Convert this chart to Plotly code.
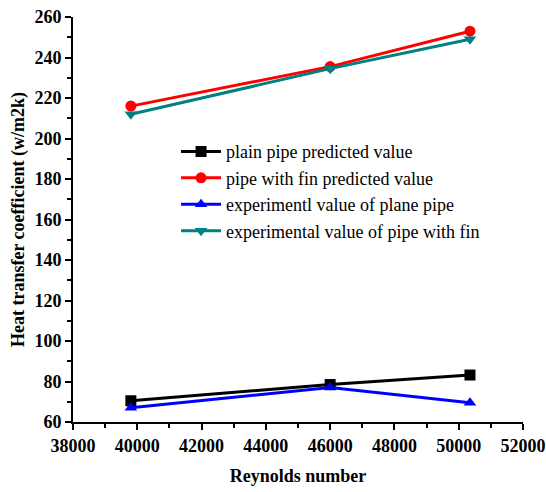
import plotly.graph_objects as go

reynolds = [39800, 46000, 50350]
plain_pred = [70.5, 78.5, 83.2]
fin_pred = [216, 235.5, 253]
plain_exp = [67, 77, 69.5]
fin_exp = [212, 234.5, 249]

x_ticks = [38000, 40000, 42000, 44000, 46000, 48000, 50000, 52000]
y_ticks = [60, 80, 100, 120, 140, 160, 180, 200, 220, 240, 260]

names = ["plain pipe predicted value", "pipe with fin predicted value",
         "experimentl value of plane pipe", "experimental value of pipe with fin"]
series = [plain_pred, fin_pred, plain_exp, fin_exp]
colors = ["black", "red", "blue", "#008080"]
symbols = ["square", "circle", "triangle-up", "triangle-down"]

fig = go.Figure()
for n, s, c, m in zip(names, series, colors, symbols):
    fig.add_trace(go.Scatter(x=reynolds, y=s, name=n, mode="lines+markers",
                             line=dict(color=c, width=3),
                             marker=dict(symbol=m, size=11, color=c)))

font = "Liberation Serif"
fig.update_layout(
    width=546, height=492,
    margin=dict(l=73, r=23, t=17, b=70, autoexpand=False),
    plot_bgcolor="white", paper_bgcolor="white",
    font=dict(family=font, color="black"),
    showlegend=True,
    legend=dict(x=0.229, y=0.713, xanchor="left", yanchor="top",
                font=dict(family=font, size=18, color="black"),
                bgcolor="rgba(0,0,0,0)", tracegroupgap=0, itemwidth=40),
)
fig.update_xaxes(range=[38000, 52000], tickvals=x_ticks,
                 ticktext=["<b>%d</b>" % v for v in x_ticks], automargin=False,
                 showgrid=False, zeroline=False, showline=True, linecolor="black", linewidth=2,
                 ticks="outside", ticklen=6, tickwidth=2, tickcolor="black",
                 tickfont=dict(family=font, size=18, color="black", weight="bold"),
                 minor=dict(dtick=1000, ticks="outside", ticklen=4, tickwidth=2, tickcolor="black"),
                 title=dict(text="<b>Reynolds number</b>", font=dict(family=font, size=18, weight="bold"), standoff=15))
fig.update_yaxes(range=[60, 260], tickvals=y_ticks,
                 ticktext=["<b>%d</b>" % v for v in y_ticks], automargin=False,
                 showgrid=False, zeroline=False, showline=True, linecolor="black", linewidth=2,
                 ticks="outside", ticklen=6, tickwidth=2, tickcolor="black",
                 tickfont=dict(family=font, size=18, color="black", weight="bold"),
                 minor=dict(dtick=10, ticks="outside", ticklen=4, tickwidth=2, tickcolor="black"),
                 title=dict(text="<b>Heat transfer coefficient (w/m2k)</b>", font=dict(family=font, size=18, weight="bold"), standoff=5))
# remove the browser's default 8px body margin so the figure fills the window
fig.write_html("out.html", config={"displayModeBar": False},
               post_script="document.body.style.margin='0';document.body.style.overflow='hidden';")
